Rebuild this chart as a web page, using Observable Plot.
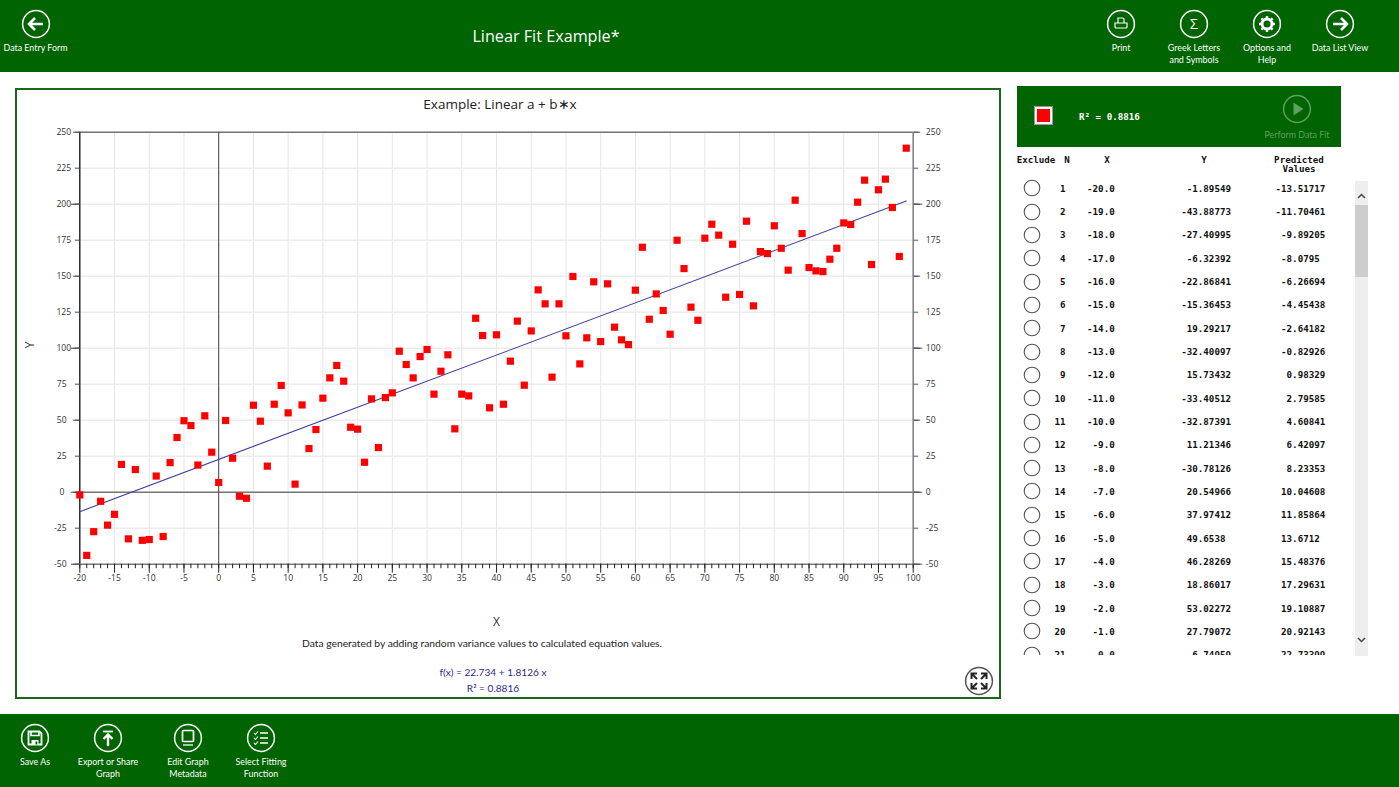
<!DOCTYPE html>
<html>
<head>
<meta charset="utf-8">
<script src="https://cdn.jsdelivr.net/npm/d3@7"></script>
<script src="https://cdn.jsdelivr.net/npm/@observablehq/plot@0.6"></script>
<style>
html,body{margin:0;padding:0;background:#fff;width:1399px;height:787px;overflow:hidden;font-family:"Lato",sans-serif}
.abs{position:absolute}
.band{position:absolute;left:0;width:1399px;background:#006400}
.lbl{position:absolute;transform:translateX(-50%);color:#fff;font-size:8.9px;line-height:11.5px;text-align:center;white-space:nowrap}
.ico{position:absolute;transform:translate(-50%,-50%)}
#panel{position:absolute;left:15px;top:88px;width:982px;height:607px;border:2px solid #1c661c;background:#fff}
#plotHost{position:absolute;left:15px;top:88px;width:986px;height:611px}
#plotHost svg{display:block;overflow:visible}
.ct{position:absolute;transform:translate(-50%,-50%);white-space:nowrap}
.mono{font-family:"DejaVu Sans Mono",monospace;font-weight:bold;font-size:9.2px;color:#111;white-space:pre}
.r{position:absolute;transform:translateY(-50%)}
#list{position:absolute;left:1017px;top:176px;width:330px;height:479px;overflow:hidden}
</style>
</head>
<body>
<div class="band" style="top:0;height:72px"></div>
<div class="band" style="top:714px;height:73px"></div>
<div id="panel"></div>
<div id="plotHost"></div>
<div id="chrome"></div>
<script>
// ---- chart data ----
const xValues = [-20,-19,-18,-17,-16,-15,-14,-13,-12,-11,-10,-9,-8,-7,-6,-5,-4,-3,-2,-1,0,
 1,2,3,4,5,6,7,8,9,10,11,12,13,14,15,16,17,18,19,20,21,22,23,24,25,26,27,28,29,30,
 31,32,33,34,35,36,37,38,39,40,41,42,43,44,45,46,47,48,49,50,51,52,53,54,55,56,57,58,59,60,
 61,62,63,64,65,66,67,68,69,70,71,72,73,74,75,76,77,78,79,80,81,82,83,84,85,86,87,88,89,90,
 91,92,93,94,95,96,97,98,99];
const yValues = [-1.89549,-43.88773,-27.40995,-6.32392,-22.86841,-15.36453,19.29217,-32.40097,15.73432,-33.40512,-32.87391,
 11.21346,-30.78126,20.54966,37.97412,49.6538,46.28269,18.86017,53.02272,27.79072,6.74959,
 49.8,23.6,-2.8,-4.2,60.4,49.3,18.1,61.1,74.1,55.1,5.6,60.6,30.3,43.5,65.3,79.4,88,77.1,45.1,43.8,
 20.8,64.8,31,65.7,69,97.9,88.7,79.4,94.2,99.1,68.1,84,95.4,44,68.1,66.9,120.8,108.8,58.6,109.3,
 61.1,91,118.8,74.3,112,140.5,130.8,79.9,130.8,108.6,149.8,89.1,107.2,146.1,104.6,144.7,114.6,105.8,102.5,140.3,
 170.1,120.1,137.7,126.2,109.7,175,155.3,128.5,119.4,176.4,186.1,178.5,135.4,172.2,137.3,188.2,129.4,167.1,165.7,185,
 169.4,154.2,202.8,179.6,156,153.7,153.2,161.8,169.4,187,185.9,201.4,216.7,158.1,210,217.4,197.7,163.7,238.9];
const fitX = [-20, 99];
const fitY = [-13.51717, 202.18];
const xMinor = [-20,-19,-18,-17,-16,-15,-14,-13,-12,-11,-10,-9,-8,-7,-6,-5,-4,-3,-2,-1,0,
 1,2,3,4,5,6,7,8,9,10,11,12,13,14,15,16,17,18,19,20,21,22,23,24,25,26,27,28,29,30,
 31,32,33,34,35,36,37,38,39,40,41,42,43,44,45,46,47,48,49,50,51,52,53,54,55,56,57,58,59,60,
 61,62,63,64,65,66,67,68,69,70,71,72,73,74,75,76,77,78,79,80,81,82,83,84,85,86,87,88,89,90,
 91,92,93,94,95,96,97,98,99,100];
const xMajor = [-20,-15,-10,-5,0,5,10,15,20,25,30,35,40,45,50,55,60,65,70,75,80,85,90,95,100];
const yTicks = [-50,-25,0,25,50,75,100,125,150,175,200,225,250];
const y50 = [-50,0,50,100,150,200,250];
const y100 = [-50,0,100,200];
const yLabelsWide = [100,125,150,175,200,225,250];
const yLabelsNarrow = [-50,-25,25,50,75];
const yLabelsZero = [0];

// ---- table data ----
const rowN = ["1","2","3","4","5","6","7","8","9","10","11","12","13","14","15","16","17","18","19","20","21"];
const rowX = ["-20.0","-19.0","-18.0","-17.0","-16.0","-15.0","-14.0","-13.0","-12.0","-11.0","-10.0","-9.0","-8.0","-7.0","-6.0","-5.0","-4.0","-3.0","-2.0","-1.0","0.0"];
const rowY = ["-1.89549","-43.88773","-27.40995","-6.32392","-22.86841","-15.36453","19.29217","-32.40097","15.73432","-33.40512","-32.87391","11.21346","-30.78126","20.54966","37.97412","49.6538 ","46.28269","18.86017","53.02272","27.79072","6.74959"];
const rowP = ["-13.51717","-11.70461","-9.89205","-8.0795 ","-6.26694","-4.45438","-2.64182","-0.82926","0.98329","2.79585","4.60841","6.42097","8.23353","10.04608","11.85864","13.6712 ","15.48376","17.29631","19.10887","20.92143","22.73399"];

const points = xValues.map((x,i)=>({x,y:yValues[i]}));
const fitLine = fitX.map((x,i)=>({x,y:fitY[i]}));
const tickText = d=>String(d);
const axisColor = "#222";
const tf = {fontSize:8.6, fontFamily:"'Open Sans',sans-serif", fill:"#333"};
const noText = {fill:"none", label:null};

const chart = Plot.plot({
  width:986, height:611,
  marginLeft:64.3, marginRight:88.3, marginTop:43.7, marginBottom:135.3,
  style:{background:"transparent",fontFamily:"'Open Sans',sans-serif",color:"#333",overflow:"visible"},
  x:{domain:[-20,100],label:null},
  y:{domain:[-50,250],label:null},
  marks:[
    Plot.gridX(xMajor,{stroke:"#e6e6e6",strokeOpacity:1,strokeWidth:1}),
    Plot.gridY(yTicks,{stroke:"#ececec",strokeOpacity:1,strokeWidth:1.4}),
    Plot.ruleY([250],{stroke:"#777",strokeWidth:1.4}),
    Plot.ruleY([0],{stroke:"#777",strokeWidth:1.5}),
    Plot.ruleX([100],{stroke:"#777",strokeWidth:1.4}),
    Plot.ruleX([0],{stroke:"#444",strokeWidth:1}),
    Plot.ruleX([-20],{stroke:"#111",strokeWidth:1.3}),
    Plot.ruleY([-50],{stroke:"#444",strokeWidth:1}),
    // x axis
    Plot.axisX(xMinor,{anchor:"bottom",tickSize:4.5,stroke:axisColor,...noText}),
    Plot.axisX(xMajor,{anchor:"bottom",tickSize:9,stroke:axisColor,...noText}),
    Plot.axisX(xMajor,{anchor:"bottom",tickSize:0,tickPadding:10.5,tickFormat:tickText,label:null,...tf}),
    // y axis, left
    Plot.axisY(yTicks,{anchor:"left",tickSize:4.5,stroke:"#555",...noText}),
    Plot.axisY(y50,{anchor:"left",tickSize:6.5,stroke:"#555",...noText}),
    Plot.axisY(y100,{anchor:"left",tickSize:8.5,stroke:"#555",...noText}),
    Plot.axisY(yLabelsWide,{anchor:"left",tickSize:0,tickPadding:8.6,tickFormat:tickText,label:null,...tf}),
    Plot.axisY(yLabelsNarrow,{anchor:"left",tickSize:0,tickPadding:13.2,tickFormat:tickText,label:null,...tf}),
    Plot.axisY(yLabelsZero,{anchor:"left",tickSize:0,tickPadding:15.3,tickFormat:tickText,label:null,...tf}),
    // y axis, right
    Plot.axisY(yTicks,{anchor:"right",tickSize:4.5,stroke:"#555",...noText}),
    Plot.axisY(y50,{anchor:"right",tickSize:6.5,stroke:"#555",...noText}),
    Plot.axisY(y100,{anchor:"right",tickSize:8.5,stroke:"#555",...noText}),
    Plot.axisY(yTicks,{anchor:"right",tickSize:0,tickPadding:12.6,tickFormat:tickText,label:null,...tf}),
    // axis titles
    Plot.text(["X"],{frameAnchor:"bottom",dy:62,fontSize:12,fill:"#333"}),
    Plot.text(["Y"],{frameAnchor:"left",dx:-50,rotate:-90,fontSize:12,fill:"#333"}),
    // data
    Plot.line(fitLine,{x:"x",y:"y",stroke:"#3f3fa0",strokeWidth:1.1}),
    Plot.dot(points,{x:"x",y:"y",symbol:"square",r:4.06,fill:"#ff0000",stroke:"none"})
  ]
});
document.getElementById("plotHost").appendChild(chart);

// ---- application chrome (page furniture, not chart data) ----
const W="#fff";
const circle=(s="#fff",sw=1.5,r=13.4)=>`<circle cx="15" cy="15" r="${r}" fill="none" stroke="${s}" stroke-width="${sw}"/>`;
const icons={
 back:`<path d="M22 15H9M14 9l-6 6 6 6" fill="none" stroke="#fff" stroke-width="2.6"/>`,
 fwd:`<path d="M8 15h13M16 9l6 6-6 6" fill="none" stroke="#fff" stroke-width="2.6"/>`,
 print:`<path d="M12 14v-5h5l1 1v4M9 14h12v4a1 1 0 0 1-1 1H10a1 1 0 0 1-1-1z" fill="none" stroke="#fff" stroke-width="1.2"/>`,
 gear:`<circle cx="15" cy="15" r="5" fill="none" stroke="#fff" stroke-width="3"/><path d="M15 7v3M15 20v3M7 15h3M20 15h3M9.4 9.4l2 2M18.6 18.6l2 2M20.6 9.4l-2 2M11.4 18.6l-2 2" stroke="#fff" stroke-width="2.4"/>`,
 save:`<path d="M8.5 8.5h11l2 2v11h-13z" fill="none" stroke="#fff" stroke-width="1.8"/><path d="M11 8.5v4h8v-4" fill="none" stroke="#fff" stroke-width="1.6"/><path d="M11.5 17h7v4.5h-7z" fill="#fff"/><rect x="15.5" y="18.5" width="1.8" height="3" fill="#006400"/>`,
 up:`<path d="M10 8.5h10" stroke="#fff" stroke-width="1.8"/><path d="M15 23V12M10.5 16l4.5-4.5 4.5 4.5" fill="none" stroke="#fff" stroke-width="2.4"/>`,
 book:`<rect x="9.5" y="7.5" width="11" height="11" rx="1" fill="none" stroke="#fff" stroke-width="1.7"/><path d="M10 22h10" stroke="#fff" stroke-width="1.3"/>`,
 list:`<path d="M8 10l1.5 1.5L12 8.5M8 15l1.5 1.5L12 13.5M8 20l1.5 1.5L12 18.500" fill="none" stroke="#fff" stroke-width="1.1"/><path d="M14 10h8M14 15h8M14 20h8" stroke="#fff" stroke-width="1.4"/>`,
 play:`<path d="M11.500 8.500v13l10-6.500z" fill="#5f9f5f"/>`,
 expand:`<g fill="none" stroke="#222" stroke-width="2"><path d="M13 13L8 8M7.500 13V7.500H13M17 13L22 8M17 7.500h5.500V13M13 17L8 22M7.500 17v5.500H13M17 17L22 22M22.500 17v5.500H17"/></g>`
};
function icon(cx,cy,name,stroke="#fff",extra=""){
  return `<svg class="ico" style="left:${cx}px;top:${cy}px" width="30" height="30" viewBox="0 0 30 30">${circle(stroke)}${icons[name]||""}${extra}</svg>`;
}
function label(cx,top,lines,style=""){
  return `<div class="lbl" style="left:${cx}px;top:${top}px;${style}">${lines.join("<br>")}</div>`;
}
let h="";
h+=icon(35.5,24,"back")+label(35.5,42,["Data Entry Form"]);
h+=`<div class="ct" style="left:546px;top:36px;color:#fff;font-size:16.2px;font-family:'Open Sans'">Linear Fit Example*</div>`;
h+=icon(1121,24,"print")+label(1121,42,["Print"]);
h+=icon(1194,24,"",W,`<text x="15" y="20" text-anchor="middle" fill="#fff" font-size="14" font-family="Open Sans">Σ</text>`)+label(1194,42,["Greek Letters","and Symbols"]);
h+=icon(1267,24,"gear")+label(1267,42,["Options and","Help"]);
h+=icon(1340,24,"fwd")+label(1340,42,["Data List View"]);
h+=icon(35,738,"save")+label(35,756,["Save As"]);
h+=icon(108,738,"up")+label(108,756,["Export or Share","Graph"]);
h+=icon(188,738,"book")+label(188,756,["Edit Graph","Metadata"]);
h+=icon(261,738,"list")+label(261,756,["Select Fitting","Function"]);
// chart titles
h+=`<div class="ct" style="left:500px;top:104px;font-size:13.5px;color:#222;font-family:'Open Sans'">Example: Linear a + b∗x</div>`;
h+=`<div class="ct" style="left:482px;top:643px;font-size:10.3px;color:#222">Data generated by adding random variance values to calculated equation values.</div>`;
h+=`<div class="ct" style="left:493px;top:672px;font-size:10.1px;color:#2b2b8c">f(x) = 22.734 + 1.8126 x</div>`;
h+=`<div class="ct" style="left:493px;top:688px;font-size:10.1px;color:#2b2b8c">R² = 0.8816</div>`;
h+=icon(979,681,"expand","#555");
// side panel
h+=`<div class="abs" style="left:1017px;top:86px;width:324px;height:61px;background:#006400"></div>`;
h+=`<div class="abs" style="left:1034px;top:106px;width:13px;height:13px;background:#ff0000;border:3px solid #fff;outline:1px solid #999;outline-offset:-1px;box-sizing:content-box"></div>`;
h+=`<div class="r mono" style="left:1079px;top:116px;color:#fff;font-size:9.2px">R² = 0.8816</div>`;
h+=icon(1296.7,109,"play","#5f9f5f");
h+=`<div class="ct" style="left:1297px;top:134px;color:#5f9f5f;font-size:8.9px">Perform Data Fit</div>`;
// table head
const head=(cx,cy,t)=>`<div class="ct mono" style="left:${cx}px;top:${cy}px">${t}</div>`;
h+=head(1036,159,"Exclude")+head(1067,159,"N")+head(1107,159,"X")+head(1204,159,"Y")+head(1299,159,"Predicted")+head(1299,167.5,"Values");
// rows
let rows="";
rowN.forEach((n,i)=>{
  const cy=187.7+i*23.33-176;
  const cell=(right,t)=>`<div class="r mono" style="right:${1347-right}px;top:${cy}px">${t}</div>`;
  rows+=`<svg class="abs" style="left:5.700px;top:${cy-8.5}px" width="18" height="18"><circle cx="9" cy="9" r="7.800" fill="none" stroke="#555" stroke-width="1.100"/></svg>`;
  rows+=cell(1065.5,n)+cell(1114.7,rowX[i])+cell(1231,rowY[i])+cell(1325.3,rowP[i]);
});
h+=`<div id="list">${rows}</div>`;
// scrollbar
h+=`<div class="abs" style="left:1355px;top:181px;width:13px;height:475px;background:#eeeeee"></div>`;
h+=`<div class="abs" style="left:1355px;top:205px;width:13px;height:72px;background:#cdcdcd"></div>`;
h+=`<svg class="abs" style="left:1355px;top:190px" width="13" height="12"><path d="M3 8l3.500-3.500L10 8" fill="none" stroke="#444" stroke-width="1.500"/></svg>`;
h+=`<svg class="abs" style="left:1355px;top:634px" width="13" height="12"><path d="M3 4l3.500 3.500L10 4" fill="none" stroke="#444" stroke-width="1.500"/></svg>`;
document.getElementById("chrome").innerHTML=h;
</script>
</body>
</html>
